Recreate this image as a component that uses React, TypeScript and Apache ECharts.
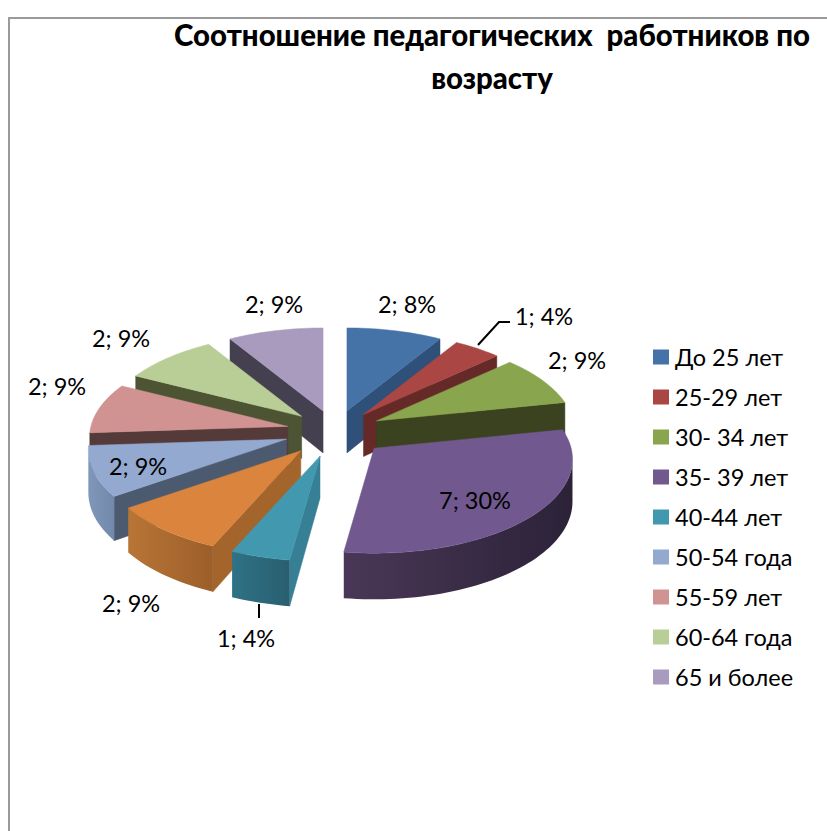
import React, { useEffect, useRef } from "react";
import * as echarts from "echarts";

const chartTitle = "Соотношение педагогических  работников по\nвозрасту";
// Slices in drawing order of the pie (clockwise from 12 o'clock)
const categories = ["До 25 лет", "25-29 лет", "30- 34 лет", "35- 39 лет", "40-44 лет", "45-49 лет", "50-54 года", "55-59 лет", "60-64 года", "65 и более"];
const counts = [2, 1, 2, 7, 1, 2, 2, 2, 2, 2];
const percents = [8, 4, 9, 30, 4, 9, 9, 9, 9, 9];
const legendNames = ["До 25 лет", "25-29 лет", "30- 34 лет", "35- 39 лет", "40-44 лет", "50-54 года", "55-59 лет", "60-64 года", "65 и более"];

const topColors = ["#4573a7", "#aa4643", "#89a54e", "#71588f", "#4198af", "#db843d", "#93a9cf", "#d19392", "#b9cd96", "#a99bbd"];
const faceColors = ["#2f5079", "#652a28", "#3a421f", "#3a2d4a", "#367f94", "#a4652c", "#4c5a70", "#553a3a", "#4c5433", "#454050"];
const wallFrom = ["#2f5079", "#652a28", "#3a421f", "#4a3757", "#2f7286", "#b87535", "#8097ba", "#8a6361", "#7b8a63", "#6f6681"];
const wallTo = ["#2f5079", "#652a28", "#3a421f", "#2b2238", "#295e70", "#9c5e2a", "#7389ab", "#8a6361", "#7b8a63", "#6f6681"];
// far slices first, so that nearer ones cover them
const paintOrder = [9, 0, 1, 8, 2, 7, 6, 3, 5, 4];

const labelAnchors = [[407, 304], [544, 316], [577, 360], [475, 500], [246, 638], [131, 603], [138, 466], [57, 386], [121, 338], [274, 304]];
const leaderLines: Record<number, number[][]> = {
  1: [[478, 345], [499, 322], [510, 322]],
  4: [[259, 604], [259, 618]],
};

const CX = 335, CY = 431, A = 197, B = 92.7, K = 0.117, EXPLODE = 0.25, DEPTH = 42;
const TAU = Math.PI * 2;
const FONT = "Lato, 'Open Sans', sans-serif";

function proj(theta: number, r: number) {
  const u = Math.sin(theta), v = Math.cos(theta);
  const d = 1 + K * v;
  return [(A * r * u) / d, (-B * r * v) / d];
}
const depthAt = (theta: number) => DEPTH / (1 + 0.09 * Math.cos(theta));

const total = counts.reduce((s, c) => s + c, 0);
const starts: number[] = [];
counts.reduce((acc, c, i) => { starts[i] = acc; return acc + c; }, 0);

function renderSlice(idx: number) {
  return (_params: any, api: any) => {
    const count = api.value(0);
    const t0 = (starts[idx] / total) * TAU;
    const t1 = t0 + (count / total) * TAU;
    const off = proj((t0 + t1) / 2, EXPLODE);
    const tx = CX + off[0], ty = CY + off[1];
    const rim = (t: number) => { const p = proj(t, 1); return [tx + p[0], ty + p[1]]; };
    const steps = Math.max(6, Math.ceil((t1 - t0) / 0.03));
    const arc: number[][] = [];
    for (let s = 0; s <= steps; s++) arc.push(rim(t0 + ((t1 - t0) * s) / steps));

    const children: any[] = [];
    const face = (t: number) => {
      const r = rim(t);
      children.push({
        type: "polygon",
        shape: { points: [[tx, ty], r, [r[0], r[1] + depthAt(t)], [tx, ty + DEPTH]] },
        style: { fill: faceColors[idx], stroke: faceColors[idx], lineWidth: 0.5 },
      });
    };
    if (t0 >= Math.PI) face(t0);
    if (t1 <= Math.PI) face(t1);

    // outer wall, where the rim faces the viewer
    const lo = Math.max(t0, Math.acos(-K)), hi = Math.min(t1, TAU - Math.acos(-K));
    if (hi > lo) {
      const top: number[][] = [], bot: number[][] = [];
      const n = Math.ceil((hi - lo) / 0.03);
      for (let s = 0; s <= n; s++) {
        const t = lo + ((hi - lo) * s) / n;
        const r = rim(t);
        top.push(r);
        bot.unshift([r[0], r[1] + depthAt(t)]);
      }
      children.push({
        type: "polygon",
        shape: { points: top.concat(bot) },
        style: {
          fill: new echarts.graphic.LinearGradient(0, 0, 1, 0, [
            { offset: 0, color: wallFrom[idx] },
            { offset: 1, color: wallTo[idx] },
          ]),
        },
      });
    }

    children.push({
      type: "polygon",
      shape: { points: [[tx, ty], ...arc] },
      style: { fill: topColors[idx], stroke: topColors[idx], lineWidth: 0.5 },
    });

    if (leaderLines[idx]) {
      children.push({
        type: "polyline",
        shape: { points: leaderLines[idx] },
        style: { stroke: "#000", lineWidth: 2, fill: "none" },
      });
    }
    children.push({
      type: "text",
      x: labelAnchors[idx][0],
      y: labelAnchors[idx][1],
      style: {
        text: `${count}; ${percents[idx]}%`,
        fill: "#000",
        font: `23.5px ${FONT}`,
        align: "center",
        verticalAlign: "middle",
      },
    });
    return { type: "group", children };
  };
}

export default function App() {
  const ref = useRef<HTMLDivElement>(null);
  useEffect(() => {
    document.body.style.margin = "0";
    const chart = echarts.init(ref.current!, undefined, { renderer: "svg" });
    chart.setOption({
      animation: false,
      backgroundColor: "#fff",
      title: {
        text: chartTitle,
        left: 487,
        top: 8,
        textAlign: "center",
        textStyle: { fontFamily: FONT, fontWeight: 900, fontSize: 29.4, lineHeight: 43, color: "#000" },
      },
      legend: {
        data: legendNames,
        orient: "vertical",
        left: 653,
        top: 345,
        padding: 0,
        icon: "rect",
        itemWidth: 16,
        itemHeight: 15,
        itemGap: 16,
        selectedMode: false,
        textStyle: { fontFamily: FONT, fontSize: 23.5, lineHeight: 15, color: "#000", padding: [0, 0, 0, 1] },
      },
      graphic: [
        { type: "line", shape: { x1: 9, y1: 18, x2: 9, y2: 831 }, style: { stroke: "#9a9a9a", lineWidth: 2 } },
        { type: "line", shape: { x1: 8, y1: 18, x2: 827, y2: 18 }, style: { stroke: "#9a9a9a", lineWidth: 2 } },
      ],
      series: paintOrder.map((idx, order) => ({
        type: "custom",
        name: categories[idx],
        coordinateSystem: "none",
        z: 2 + order,
        itemStyle: { color: topColors[idx] },
        data: [[counts[idx]]],
        renderItem: renderSlice(idx),
      })),
    });
    return () => chart.dispose();
  }, []);
  return <div ref={ref} style={{ width: 827, height: 831 }} />;
}
